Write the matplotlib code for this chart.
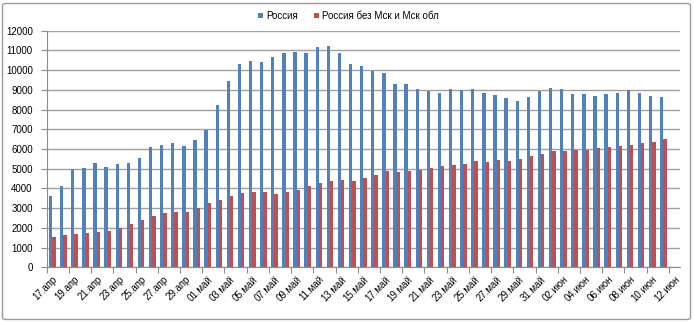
import matplotlib
matplotlib.use("Agg")
import matplotlib.pyplot as plt
from matplotlib.patches import FancyBboxPatch
import numpy as np

days = ["17.апр", "18.апр", "19.апр", "20.апр", "21.апр", "22.апр", "23.апр", "24.апр",
        "25.апр", "26.апр", "27.апр", "28.апр", "29.апр", "30.апр",
        "01.май", "02.май", "03.май", "04.май", "05.май", "06.май", "07.май", "08.май",
        "09.май", "10.май", "11.май", "12.май", "13.май", "14.май", "15.май", "16.май",
        "17.май", "18.май", "19.май", "20.май", "21.май", "22.май", "23.май", "24.май",
        "25.май", "26.май", "27.май", "28.май", "29.май", "30.май", "31.май",
        "01.июн", "02.июн", "03.июн", "04.июн", "05.июн", "06.июн", "07.июн", "08.июн",
        "09.июн", "10.июн", "11.июн", "12.июн"]

russia = [3600, 4110, 5000, 5020, 5300, 5070, 5240, 5310, 5550, 6100, 6210, 6320, 6150,
          6480, 6970, 8250, 9430, 10310, 10460,
          10410, 10650, 10870, 10940, 10870, 11170, 11220, 10870, 10310, 10210, 9940,
          9860, 9300, 9300, 9030, 8960, 8840, 9030, 8980,
          9030, 8860, 8720, 8570, 8450, 8660, 8940, 9100, 9040, 8810, 8770, 8690, 8810,
          8840, 8980, 8840, 8690, 8620, None]

regions = [1540, 1660, 1700, 1750, 1780, 1860, 2000, 2190, 2390, 2620, 2740, 2790, 2830,
           3000, 3270, 3420, 3620, 3790, 3820,
           3820, 3720, 3820, 3910, 4110, 4280, 4400, 4430, 4380, 4550, 4690, 4870, 4840,
           4870, 4920, 5020, 5120, 5190, 5240,
           5390, 5360, 5450, 5390, 5480, 5650, 5770, 5920, 5920, 5970, 5970, 6040, 6120,
           6170, 6210, 6290, 6360, 6490, None]

series_names = ["Россия", "Россия без Мск и Мск обл"]
colors = ["#4F81BD", "#C0504D"]
yticks = list(range(0, 12001, 1000))

plt.rcParams['font.family'] = ['Liberation Sans', 'DejaVu Sans']

W, H = 694, 322
fig = plt.figure(figsize=(W / 100, H / 100), dpi=100)
fig.patch.set_facecolor("white")

border = FancyBboxPatch((2.5 / W, 2.5 / H), (W - 6) / W, (H - 6) / H,
                        boxstyle="round,pad=0,rounding_size=0.006",
                        transform=fig.transFigure, facecolor="none",
                        edgecolor="#9a9a9a", linewidth=1.0)
fig.patches.append(border)

left, right = 46.7 / W, 680 / W
bottom, top = (H - 267.3) / H, (H - 30.7) / H
ax = fig.add_axes([left, bottom, right - left, top - bottom])

x = np.arange(len(days))
v1 = np.array([np.nan if v is None else v for v in russia], dtype=float)
v2 = np.array([np.nan if v is None else v for v in regions], dtype=float)
bw = 0.3
ax.bar(x - bw / 2, v1, width=bw, color=colors[0], label=series_names[0], zorder=3)
ax.bar(x + bw / 2, v2, width=bw, color=colors[1], label=series_names[1], zorder=3)

ax.set_xlim(-0.5, len(days) - 0.5)
ax.set_ylim(0, 12000)
ax.set_yticks(yticks)
ax.set_yticklabels([str(t) for t in yticks], fontsize=7)
ax.yaxis.grid(True, color="#a0a0a0", linewidth=1.0, zorder=0)
ax.set_axisbelow(True)

ax.set_xticks(x[::2])
ax.set_xticklabels(days[::2], rotation=45, ha="right", rotation_mode="anchor", fontsize=7)
ax.set_xticks(np.arange(-0.5, len(days) - 1, 2), minor=True)
ax.tick_params(axis="x", which="major", length=0, pad=5)
ax.tick_params(axis="x", which="minor", length=4, color="#8c8c8c", width=0.8)
ax.tick_params(axis="y", length=4, color="#8c8c8c", width=0.8, pad=6)

for s in ["top", "right"]:
    ax.spines[s].set_visible(False)
for s in ["left", "bottom"]:
    ax.spines[s].set_color("#8c8c8c")
    ax.spines[s].set_linewidth(0.8)

fig.legend(loc="center", bbox_to_anchor=(0.502, 1 - 16 / H), ncol=2, frameon=False,
           fontsize=7, handlelength=0.55, handleheight=0.55, handletextpad=0.3,
           columnspacing=1.6)

fig.savefig("out.png", dpi=100)
